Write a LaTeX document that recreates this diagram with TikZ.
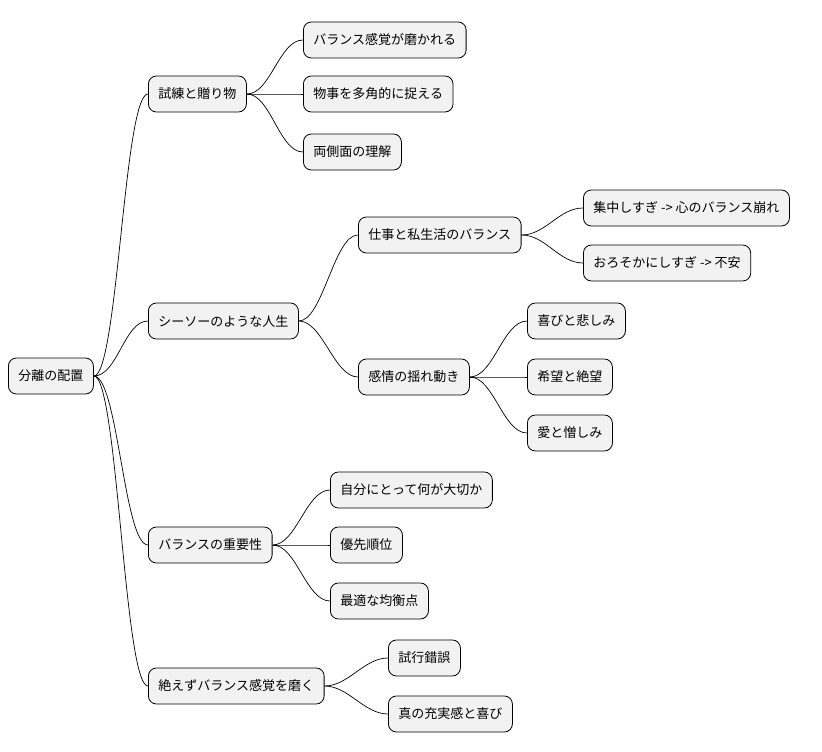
\documentclass[tikz,border=0pt]{standalone}
\usepackage{fontspec}
\setmainfont{Noto Sans CJK JP}
\begin{document}
\begin{tikzpicture}[x=1pt,y=-1pt,
  box/.style={draw=black,fill=black!5,rounded corners=8pt,minimum height=36pt,inner xsep=10pt,anchor=west,font=\fontsize{13}{15}\selectfont,line width=0.8pt},
  ln/.style={draw=black,line width=0.7pt}]
\useasboundingbox (0,0) rectangle (822,752);
\node[box] (r) at (8,376) {分離の配置};
\node[box] (a) at (148,94) {試練と贈り物};
\node[box] (a1) at (303,40) {バランス感覚が磨かれる};
\node[box] (a2) at (303,94) {物事を多角的に捉える};
\node[box] (a3) at (303,152) {両側面の理解};
\node[box] (b) at (148,321) {シーソーのような人生};
\node[box] (b1) at (358,235) {仕事と私生活のバランス};
\node[box] (b11) at (583,208) {集中しすぎ -> 心のバランス崩れ};
\node[box] (b12) at (583,263) {おろそかにしすぎ -> 不安};
\node[box] (b2) at (358,377) {感情の揺れ動き};
\node[box] (b21) at (527,321) {喜びと悲しみ};
\node[box] (b22) at (527,377) {希望と絶望};
\node[box] (b23) at (527,433) {愛と憎しみ};
\node[box] (c) at (148,545) {バランスの重要性};
\node[box] (c1) at (330,490) {自分にとって何が大切か};
\node[box] (c2) at (330,545) {優先順位};
\node[box] (c3) at (330,601) {最適な均衡点};
\node[box] (d) at (148,686) {絶えずバランス感覚を磨く};
\node[box] (d1) at (388,658) {試行錯誤};
\node[box] (d2) at (388,714) {真の充実感と喜び};
\foreach \p/\c in {r/a,r/b,r/c,r/d,a/a1,a/a2,a/a3,b/b1,b/b2,b1/b11,b1/b12,b2/b21,b2/b22,b2/b23,c/c1,c/c2,c/c3,d/d1,d/d2}
  \draw[ln] (\p.east) .. controls ([xshift=24pt]\p.east) and ([xshift=-24pt]\c.west) .. (\c.west);
\end{tikzpicture}
\end{document}
